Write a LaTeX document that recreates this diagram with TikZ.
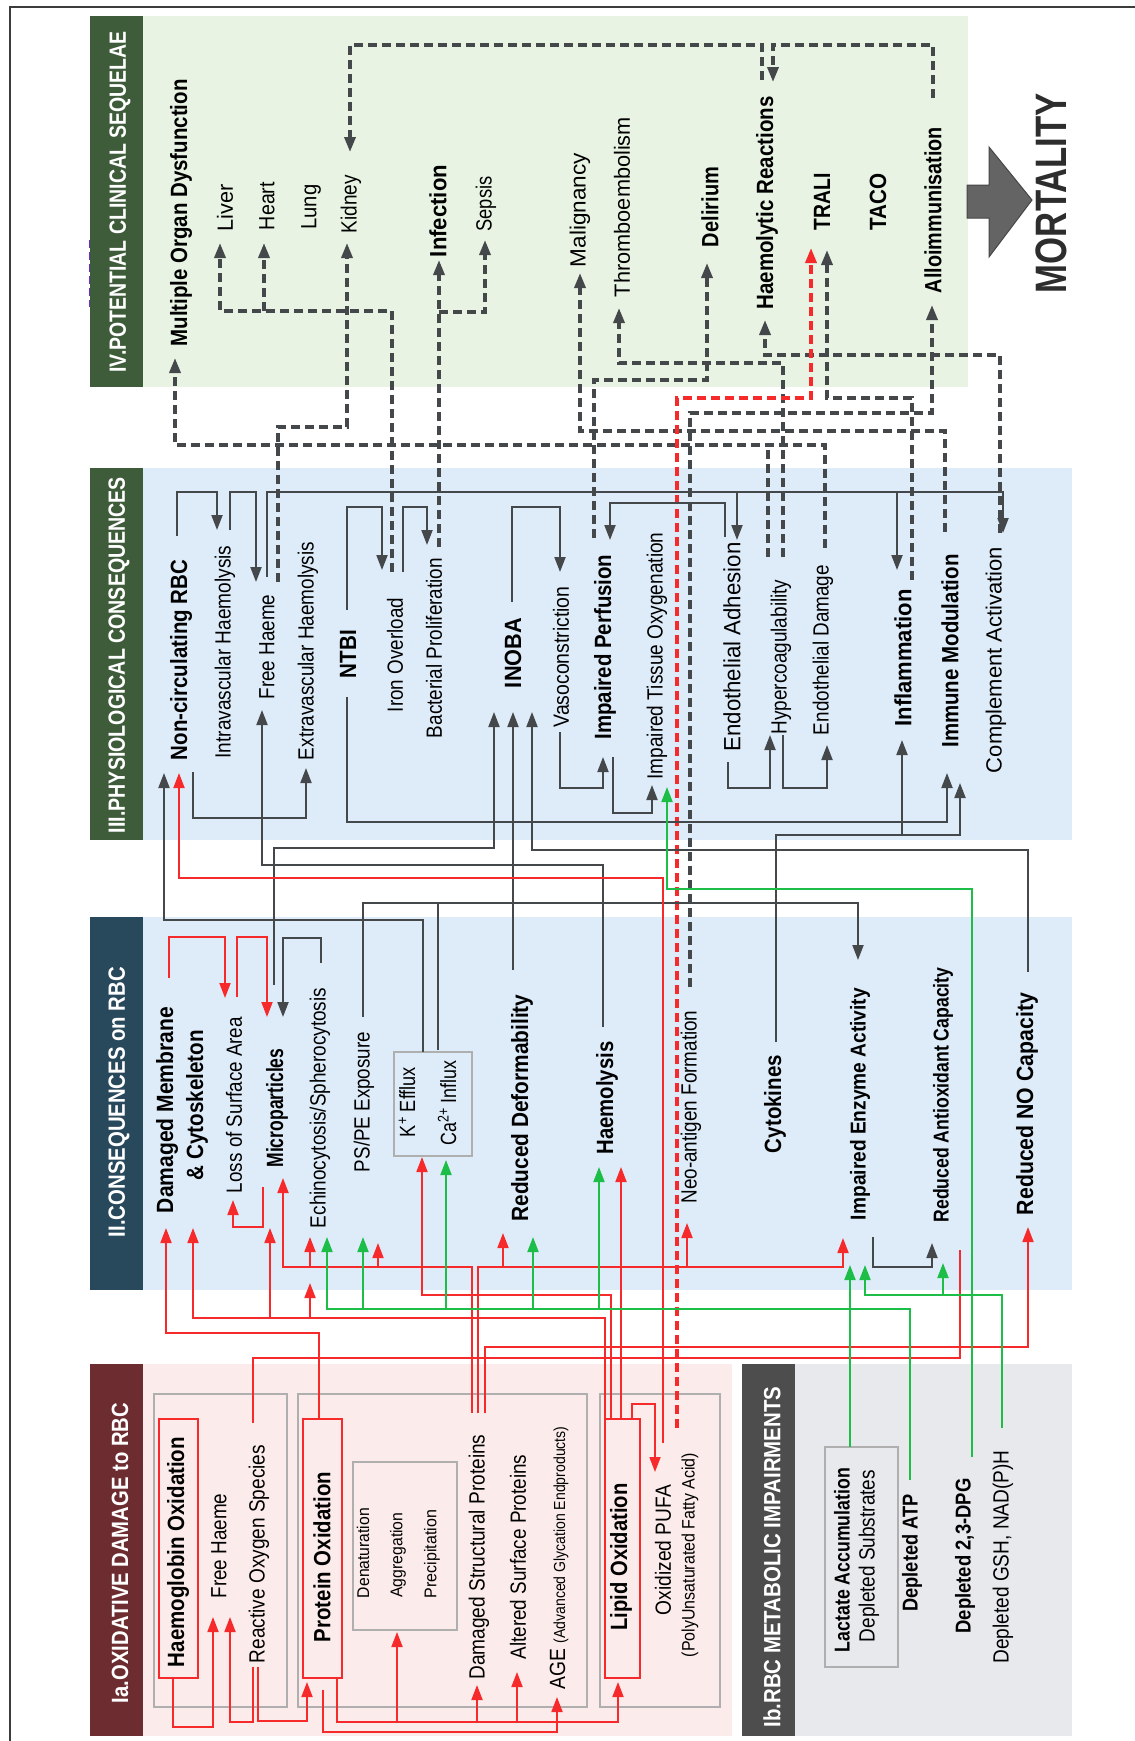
\documentclass[tikz,border=0pt]{standalone}
\usepackage{fontspec}
\setmainfont{Liberation Sans}
\usepackage{graphicx}
\usetikzlibrary{arrows.meta}
\definecolor{dkc}{RGB}{68,72,74}
\definecolor{rdc}{RGB}{246,42,42}
\definecolor{gnc}{RGB}{28,190,72}
\definecolor{pgreen}{RGB}{232,243,228}
\definecolor{pblue}{RGB}{222,236,249}
\definecolor{ppink}{RGB}{252,235,235}
\definecolor{pgray}{RGB}{231,233,236}
\definecolor{bgreen}{RGB}{62,92,58}
\definecolor{bblue}{RGB}{40,72,92}
\definecolor{bred}{RGB}{109,45,48}
\definecolor{bgray}{RGB}{77,77,77}
\definecolor{mortc}{RGB}{45,45,45}
\newsavebox\fitbox
\newcommand\fitto[2]{\sbox\fitbox{#2}\pgfmathsetmacro\fitfac{#1/\the\wd\fitbox}\scalebox{\fitfac}[1]{\usebox\fitbox}}
\tikzset{
 rt/.style={rotate=90, inner sep=0pt, font=\fontsize{22}{24}\selectfont},
 bt/.style={rotate=90, inner sep=0pt, font=\fontsize{23.5}{26}\selectfont\bfseries},
 bts/.style={rotate=90, inner sep=0pt, font=\fontsize{21.5}{24}\selectfont\bfseries},
 rts/.style={rotate=90, inner sep=0pt, font=\fontsize{17}{19}\selectfont},
 bar/.style={rotate=90, inner sep=0pt, text=white, font=\fontsize{23.5}{26}\selectfont\bfseries},
 mort/.style={rotate=90, inner sep=0pt, text=mortc, font=\fontsize{44}{48}\selectfont\bfseries},
 dl/.style={draw=dkc, line width=2pt},
 rl/.style={draw=rdc, line width=1.8pt},
 gl/.style={draw=gnc, line width=2pt},
 ds/.style={draw=dkc, line width=3.4pt, dash pattern=on 9pt off 5pt},
 dr/.style={draw=rdc, line width=3.4pt, dash pattern=on 9pt off 5pt},
 ar/.style={-{Triangle[length=15pt,width=11pt]}},
 gbox/.style={draw={rgb,255:red,175;green,175;blue,175}, line width=1.2pt},
 rbox/.style={draw=rdc, line width=1.8pt},
}
\begin{document}
\begin{tikzpicture}[x=1pt,y=-1pt]
\useasboundingbox (0,0) rectangle (1135,1741);
\fill[white] (0,0) rectangle (1135,1741);
% frame
\draw[line width=1.2pt, draw={rgb,255:red,60;green,60;blue,60}] (10,1745) -- (10,7) -- (1140,7);
\draw[line width=1pt, draw={rgb,255:red,110;green,40;blue,220}, dash pattern=on 8pt off 4pt] (89,240) -- (89,307);
% panels
\fill[pgreen] (143,16) rectangle (968,387);
\fill[bgreen] (90,16) rectangle (143,387);
\fill[pblue] (143,468) rectangle (1072,840);
\fill[bgreen] (90,468) rectangle (143,840);
\fill[pblue] (143,917) rectangle (1072,1290);
\fill[bblue] (90,917) rectangle (143,1290);
\fill[ppink] (143,1364) rectangle (732,1736);
\fill[bred] (90,1364) rectangle (143,1736);
\fill[pgray] (795,1364) rectangle (1072,1736);
\fill[bgray] (742,1364) rectangle (795,1736);
% inner boxes
\draw[gbox] (154,1394) rectangle (287,1707);
\draw[gbox] (298,1394) rectangle (587,1707);
\draw[gbox] (600,1394) rectangle (720,1707);
\draw[gbox] (353,1462) rectangle (457,1630);
\draw[gbox] (394,1052) rectangle (472,1156);
\draw[gbox] (825,1447) rectangle (898,1667);
\draw[rbox] (159,1419) rectangle (198,1678);
\draw[rbox] (303,1419) rectangle (342,1678);
\draw[rbox] (605,1419) rectangle (640,1678);
% mortality arrow
\filldraw[fill={rgb,255:red,100;green,100;blue,100}, draw={rgb,255:red,70;green,70;blue,70}, line width=1pt]
 (967,185) -- (989,185) -- (989,147) -- (1032,200) -- (989,257) -- (989,218) -- (967,218) -- cycle;

% ---------- dashed connectors ----------
\draw[ds,ar] (825,548) -- (825,445) -- (175,445) -- (175,358);
\draw[ds] (768,557) -- (768,445);
\draw[ds,ar] (278,582) -- (278,427) -- (347,427) -- (347,243);
\draw[ds,ar] (392,572) -- (392,311) -- (220,311) -- (220,243);
\draw[ds,ar] (264,311) -- (264,243);
\draw[ds,ar] (439,547) -- (439,260);
\draw[ds,ar] (439,312) -- (485,312) -- (485,240);
\draw[ds,ar] (945,532) -- (945,431) -- (580,431) -- (580,273);
\draw[ds,ar] (783,557) -- (783,363) -- (619,363) -- (619,308);
\draw[ds,ar] (594,538) -- (594,380) -- (707,380) -- (707,263);
\draw[ds,ar] (690,987) -- (690,413) -- (932,413) -- (932,305);
\draw[ds,ar] (912,580) -- (912,398) -- (827,398) -- (827,250);
\draw[ds,ar] (1000,533) -- (1000,355) -- (765,355) -- (765,320);
\draw[ds,ar] (762,80) -- (762,45) -- (350,45) -- (350,152);
\draw[ds,ar] (933,98) -- (933,45) -- (773,45) -- (773,82);
\draw[dr,ar] (677,1428) -- (677,398) -- (811,398) -- (811,248);

% ---------- dark solid connectors ----------
\draw[dl,ar] (177,536) -- (177,492) -- (217,492) -- (217,530);
\draw[dl,ar] (230,530) -- (230,492) -- (256,492) -- (256,582);
\draw[dl,ar] (267,577) -- (267,492) -- (1003,492) -- (1003,533);
\draw[dl,ar] (737,492) -- (737,540);
\draw[dl,ar] (897,492) -- (897,570);
\draw[dl,ar] (347,610) -- (347,507) -- (382,507) -- (382,570);
\draw[dl,ar] (403,572) -- (403,507) -- (427,507) -- (427,545);
\draw[dl,ar] (512,602) -- (512,507) -- (560,507) -- (560,572);
\draw[dl,ar] (560,732) -- (560,788) -- (603,788) -- (603,757);
\draw[dl,ar] (613,757) -- (613,813) -- (652,813) -- (652,785);
\draw[dl,ar] (725,537) -- (725,503) -- (610,503) -- (610,540);
\draw[dl,ar] (728,762) -- (728,788) -- (770,788) -- (770,735);
\draw[dl,ar] (783,735) -- (783,788) -- (827,788) -- (827,745);
\draw[dl,ar] (193,772) -- (193,818) -- (306,818) -- (306,768);
\draw[dl,ar] (347,697) -- (347,822) -- (947,822) -- (947,773);
\draw[dl,ar] (776,1042) -- (776,835) -- (960,835) -- (960,783);
\draw[dl,ar] (902,835) -- (902,740);
\draw[dl,ar] (423,1052) -- (423,920) -- (164,920) -- (164,773);
\draw[dl,ar] (274,985) -- (274,848) -- (494,848) -- (494,712);
\draw[dl,ar] (321,963) -- (321,938) -- (283,938) -- (283,1017);
\draw[dl,ar] (363,1017) -- (363,903) -- (858,903) -- (858,960);
\draw[dl] (438,1050) -- (438,903);
\draw[dl,ar] (603,1027) -- (603,865) -- (262,865) -- (262,710);
\draw[dl,ar] (513,970) -- (513,712);
\draw[dl,ar] (1028,972) -- (1028,850) -- (532,850) -- (532,712);
\draw[dl,ar] (873,1237) -- (873,1267) -- (932,1267) -- (932,1243);

% ---------- red connectors ----------
\draw[rl,ar] (169,978) -- (169,937) -- (225,937) -- (225,998);
\draw[rl,ar] (237,997) -- (237,937) -- (267,937) -- (267,1017);
\draw[rl,ar] (263,1187) -- (263,1227) -- (233,1227) -- (233,1200);
\draw[rl,ar] (663,1443) -- (663,878) -- (179,878) -- (179,773);
\draw[rl,ar] (472,1413) -- (472,1267) -- (283,1267) -- (283,1178);
\draw[rl,ar] (310,1267) -- (310,1237);
\draw[rl,ar] (378,1267) -- (378,1243);
\draw[rl,ar] (478,1413) -- (478,1267) -- (843,1267) -- (843,1238);
\draw[rl,ar] (503,1267) -- (503,1233);
\draw[rl,ar] (687,1267) -- (687,1223);
\draw[rl,ar] (485,1413) -- (485,1347) -- (1028,1347) -- (1028,1227);
\draw[rl] (253,1423) -- (253,1358) -- (960,1358) -- (960,1250);
\draw[rl,ar] (605,1419) -- (605,1318) -- (193,1318) -- (193,1228);
\draw[rl,ar] (270,1318) -- (270,1228);
\draw[rl,ar] (310,1318) -- (310,1283);
\draw[rl,ar] (611,1419) -- (611,1295) -- (422,1295) -- (422,1157);
\draw[rl,ar] (621,1419) -- (621,1167);
\draw[rl,ar] (632,1419) -- (632,1404) -- (655,1404) -- (655,1472);
\draw[rl,ar] (319,1419) -- (319,1333) -- (166,1333) -- (166,1228);
\draw[rl,ar] (173,1678) -- (173,1727) -- (213,1727) -- (213,1617);
\draw[rl,ar] (253,1667) -- (253,1722) -- (230,1722) -- (230,1617);
\draw[rl,ar] (258,1667) -- (258,1721) -- (307,1721) -- (307,1682);
\draw[rl,ar] (337,1678) -- (337,1722) -- (618,1722) -- (618,1682);
\draw[rl,ar] (397,1722) -- (397,1632);
\draw[rl,ar] (477,1722) -- (477,1685);
\draw[rl,ar] (517,1722) -- (517,1672);
\draw[rl,ar] (323,1690) -- (323,1732) -- (557,1732) -- (557,1697);

% ---------- green connectors ----------
\draw[gl,ar] (850,1447) -- (850,1265);
\draw[gl,ar] (910,1480) -- (910,1309) -- (327,1309) -- (327,1237);
\draw[gl,ar] (363,1309) -- (363,1237);
\draw[gl,ar] (446,1309) -- (446,1160);
\draw[gl,ar] (533,1309) -- (533,1237);
\draw[gl,ar] (599,1309) -- (599,1167);
\draw[gl,ar] (972,1457) -- (972,889) -- (667,889) -- (667,787);
\draw[gl,ar] (1002,1428) -- (1002,1295) -- (865,1295) -- (865,1265);
\draw[gl,ar] (943,1295) -- (943,1263);

% ---------- texts: section bars ----------
\node[bar] (hIV) at (120,202) {\fitto{341}{IV.POTENTIAL CLINICAL SEQUELAE}};
\node[bar] (hIII) at (119,655) {\fitto{356}{III.PHYSIOLOGICAL CONSEQUENCES}};
\node[bar] (hII) at (119,1102) {\fitto{270}{II.CONSEQUENCES on RBC}};
\node[bar] (hIa) at (120,1553) {\fitto{300}{Ia.OXIDATIVE DAMAGE to RBC}};
\node[bar] (hIb) at (772,1557) {\fitto{341}{Ib.RBC METABOLIC IMPAIRMENTS}};

% ---------- IV ----------
\node[bt] (mod) at (181,213) {\fitto{267}{Multiple Organ Dysfunction}};
\node[rt] (liver) at (225,208) {\fitto{47}{Liver}};
\node[rt] (heart) at (267,206) {\fitto{48}{Heart}};
\node[rt] (lung) at (311,207) {\fitto{45}{Lung}};
\node[rt] (kidney) at (351,204) {\fitto{58}{Kidney}};
\node[bt] (infection) at (438,211) {\fitto{92}{Infection}};
\node[rt] (sepsis) at (486,204) {\fitto{55}{Sepsis}};
\node[rt] (malig) at (580,210) {\fitto{114}{Malignancy}};
\node[rt] (thrombo) at (622,207) {\fitto{180}{Thromboembolism}};
\node[bt] (delirium) at (710,207) {\fitto{80}{Delirium}};
\node[bt] (haemreac) at (767,203) {\fitto{213}{Haemolytic Reactions}};
\node[bt] (trali) at (822,202) {\fitto{57}{TRALI}};
\node[bt] (taco) at (878,202) {\fitto{57}{TACO}};
\node[bt] (allo) at (933,210) {\fitto{166}{Alloimmunisation}};
\node[mort] (mort) at (1051,193) {\fitto{200}{MORTALITY}};

% ---------- III ----------
\node[bt] (noncirc) at (181,660) {\fitto{200}{Non-circulating RBC}};
\node[rt] (intrav) at (225,652) {\fitto{213}{Intravascular Haemolysis}};
\node[rt] (freeh3) at (267,647) {\fitto{105}{Free Haeme}};
\node[rt] (extrav) at (308,651) {\fitto{218}{Extravascular Haemolysis}};
\node[bt] (ntbi) at (348,654) {\fitto{48}{NTBI}};
\node[rt] (iron) at (395,655) {\fitto{114}{Iron Overload}};
\node[rt] (bact) at (434,648) {\fitto{180}{Bacterial Proliferation}};
\node[bt] (inoba) at (513,653) {\fitto{70}{INOBA}};
\node[rt] (vaso) at (561,657) {\fitto{141}{Vasoconstriction}};
\node[bt] (imperf) at (605,647) {\fitto{185}{Impaired Perfusion}};
\node[rt] (ito) at (657,656) {\fitto{247}{Impaired Tissue Oxygenation}};
\node[rt,font=\fontsize{23.5}{26}\selectfont] (endoadh) at (732,647) {\fitto{209}{Endothelial Adhesion}};
\node[rt] (hyper) at (781,657) {\fitto{155}{Hypercoagulability}};
\node[rt] (endodam) at (823,650) {\fitto{170}{Endothelial Damage}};
\node[bt] (inflam) at (903,658) {\fitto{137}{Inflammation}};
\node[bt] (immune) at (950,651) {\fitto{193}{Immune Modulation}};
\node[rt] (compl) at (996,660) {\fitto{226}{Complement Activation}};

% ---------- II ----------
\node[bt] (dammem) at (167,1110) {\fitto{206}{Damaged Membrane}};
\node[bt] (cytosk) at (197,1105) {\fitto{150}{\& Cytoskeleton}};
\node[rt] (loss) at (234,1105) {\fitto{176}{Loss of Surface Area}};
\node[bt] (micro) at (277,1108) {\fitto{119}{Microparticles}};
\node[rt] (echino) at (320,1108) {\fitto{240}{Echinocytosis/Spherocytosis}};
\node[rt] (psps) at (364,1102) {\fitto{140}{PS/PE Exposure}};
\node[rt] (keff) at (407,1102) {\fitto{70}{K\textsuperscript{+} Efflux}};
\node[rt] (cainf) at (447,1103) {\fitto{85}{Ca\textsuperscript{2+} Influx}};
\node[bt] (reddef) at (522,1108) {\fitto{227}{Reduced Deformability}};
\node[bt] (haemol) at (607,1098) {\fitto{113}{Haemolysis}};
\node[rt] (neo) at (691,1107) {\fitto{193}{Neo-antigen Formation}};
\node[bt] (cyto) at (775,1104) {\fitto{98}{Cytokines}};
\node[bts] (enzyme) at (860,1104) {\fitto{232}{Impaired Enzyme Activity}};
\node[bts] (antiox) at (943,1095) {\fitto{255}{Reduced Antioxidant Capacity}};
\node[bt] (redno) at (1027,1104) {\fitto{222}{Reduced NO Capacity}};

% ---------- Ia ----------
\node[bt] (hbox) at (178,1552) {\fitto{230}{Haemoglobin Oxidation}};
\node[rt] (freeh1) at (219,1546) {\fitto{105}{Free Haeme}};
\node[rt] (ros) at (259,1554) {\fitto{218}{Reactive Oxygen Species}};
\node[bt] (protox) at (322,1557) {\fitto{170}{Protein Oxidation}};
\node[rts] (denat) at (363,1553) {\fitto{90}{Denaturation}};
\node[rts] (aggr) at (398,1555) {\fitto{85}{Aggregation}};
\node[rts] (precip) at (432,1554) {\fitto{88}{Precipitation}};
\node[rt] (dsp) at (479,1557) {\fitto{245}{Damaged Structural Proteins}};
\node[rt] (asp) at (518,1557) {\fitto{205}{Altered Surface Proteins}};
\node[rt] (age) at (559,1558) {\fitto{263}{AGE {\fontsize{16}{18}\selectfont (Advanced Glycation Endproducts)}}};
\node[bt] (lipox) at (621,1557) {\fitto{147}{Lipid Oxidation}};
\node[rt] (pufa) at (663,1550) {\fitto{130}{Oxidized PUFA}};
\node[rts,font=\fontsize{18}{20}\selectfont] (pufa2) at (690,1555) {\fitto{204}{(PolyUnsaturated Fatty Acid)}};

% ---------- Ib ----------
\node[bts] (lact) at (842,1560) {\fitto{184}{Lactate Accumulation}};
\node[rt] (subst) at (869,1556) {\fitto{172}{Depleted Substrates}};
\node[bts] (atp) at (912,1553) {\fitto{117}{Depleted ATP}};
\node[bts] (dpg) at (965,1556) {\fitto{155}{Depleted 2,3-DPG}};
\node[rt] (gsh) at (1003,1557) {\fitto{213}{Depleted GSH, NAD(P)H}};
\end{tikzpicture}
\end{document}
